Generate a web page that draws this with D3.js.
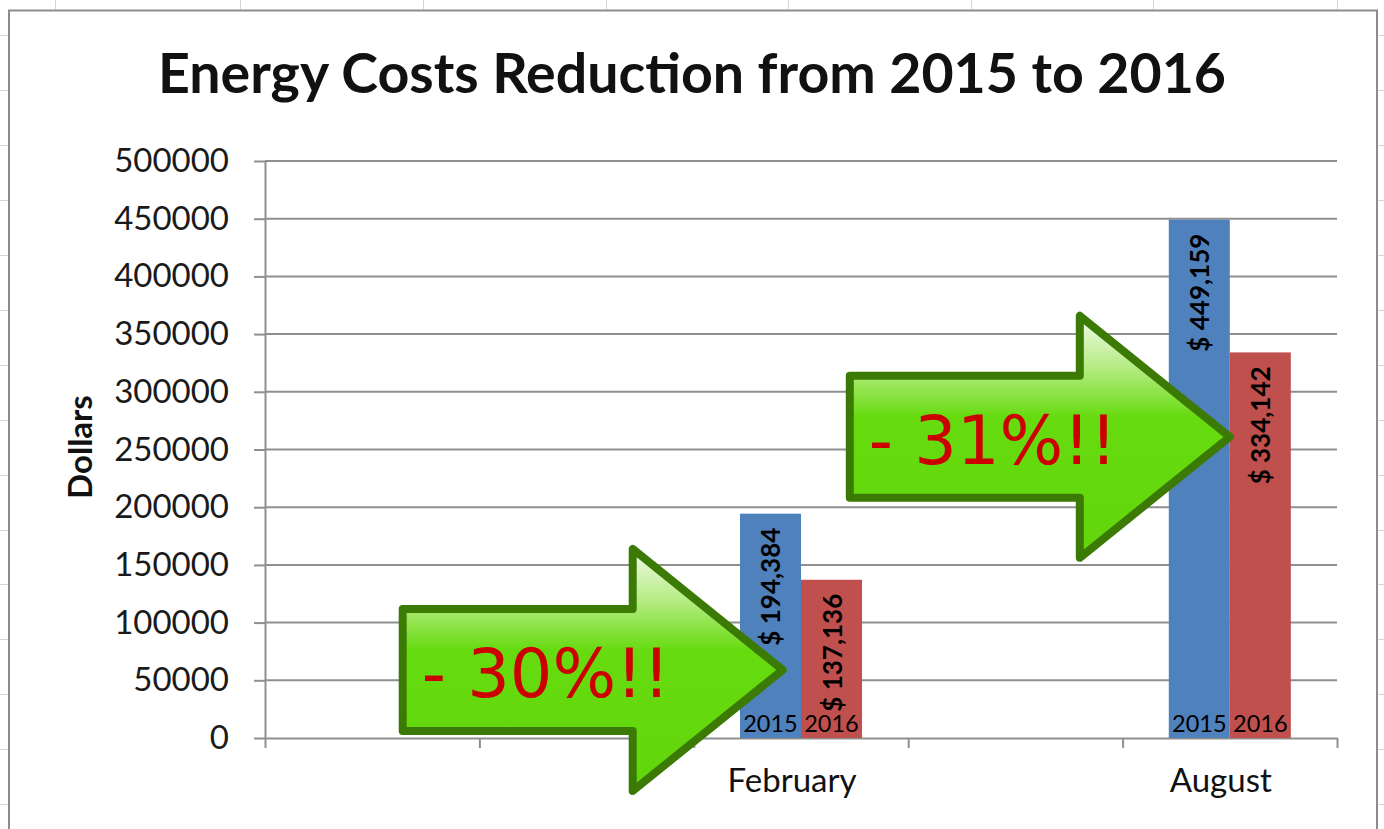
<!DOCTYPE html>
<html>
<head>
<meta charset="utf-8">
<script src="https://cdn.jsdelivr.net/npm/d3@7"></script>
<style>
  body { margin: 0; background: #fff; }
  svg { display: block; }
</style>
</head>
<body>
<svg></svg>
<script>
// chart data
const months = ["", "", "February", "", "August"];
const years = ["2015", "2016"];
const cost2015 = [null, null, 194384, null, 449159];
const cost2016 = [null, null, 137136, null, 334142];
const yTicks = [0, 50000, 100000, 150000, 200000, 250000, 300000, 350000, 400000, 450000, 500000];
const callouts = ["- 30%!!", "- 31%!!"];

const size = {w: 1384, h: 829};
const plot = {l: 265, r: 1337, t: 161, b: 738};
const svg = d3.select('svg').attr('width', size.w).attr('height', size.h);

// ---- spreadsheet behind the chart ----
const sheet = svg.append('g').attr('stroke', '#d6d6d6').attr('stroke-width', 1);
[55, 240, 423, 606, 788, 971, 1153, 1337].forEach(x => {
    sheet.append('line').attr('x1', x + .5).attr('x2', x + .5).attr('y1', 0).attr('y2', 10);
});
[35, 90, 145, 200, 255, 310, 365, 420, 475, 530, 584, 639, 694, 749, 804].forEach(y => {
    sheet.append('line').attr('x1', 0).attr('x2', 9).attr('y1', y + .5).attr('y2', y + .5);
    sheet.append('line').attr('x1', 1378).attr('x2', size.w).attr('y1', y + .5).attr('y2', y + .5);
});

// chart area
svg.append('rect')
    .attr('x', 9).attr('y', 10.5)
    .attr('width', 1368).attr('height', 840)
    .attr('fill', '#fff')
    .attr('stroke', '#8c8c8c')
    .attr('stroke-width', 2);

// ---- scales ----
const x = d3.scaleBand().domain(d3.range(months.length)).range([plot.l, plot.r]);
const xSub = d3.scaleBand().domain(years).range([0, x.bandwidth()]).paddingOuter(0.757);
const xEdge = d3.scaleLinear().domain([0, months.length]).range([plot.l, plot.r]);
const y = d3.scaleLinear().domain([0, 500000]).range([plot.b, plot.t]);
const color = d3.scaleOrdinal().domain(years).range(['#4F81BD', '#C0504D']);

// title
svg.append('text')
    .attr('x', 692).attr('y', 93)
    .attr('text-anchor', 'middle')
    .style('font', 'bold 55.5px Lato')
    .attr('fill', '#111')
    .text('Energy Costs Reduction from 2015 to 2016');

// gridlines
svg.append('g').selectAll('line')
    .data(yTicks.filter(d => d > 0))
    .join('line')
    .attr('x1', plot.l).attr('x2', plot.r)
    .attr('y1', d => y(d)).attr('y2', d => y(d))
    .attr('stroke', '#8f8f8f').attr('stroke-width', 2);

// y axis
const yAxisG = svg.append('g')
    .attr('transform', `translate(${plot.l},0)`)
    .call(d3.axisLeft(y).tickValues(yTicks).tickFormat(d3.format('d'))
        .tickSize(11).tickSizeOuter(0).tickPadding(25));
yAxisG.selectAll('path, line').attr('stroke', '#8f8f8f').attr('stroke-width', 2);
yAxisG.selectAll('text').style('font', '33px Lato').attr('fill', '#1a1a1a');

// x axis: ticks at category edges
const xAxisG = svg.append('g')
    .attr('transform', `translate(0,${plot.b})`)
    .call(d3.axisBottom(xEdge).ticks(months.length).tickFormat('').tickSize(10).tickSizeOuter(0));
xAxisG.selectAll('path, line').attr('stroke', '#8f8f8f').attr('stroke-width', 2);

svg.append('g').selectAll('text')
    .data(months)
    .join('text')
    .attr('x', (d, i) => x(i) + x.bandwidth() / 2 - 9)
    .attr('y', 792)
    .attr('text-anchor', 'middle')
    .style('font', '33px Lato')
    .attr('fill', '#111')
    .text(d => d);

// y title
svg.append('text')
    .attr('transform', 'translate(92,447) rotate(-90)')
    .attr('text-anchor', 'middle')
    .style('font', 'bold 33px Lato')
    .attr('fill', '#111')
    .text('Dollars');

// ---- bars ----
const bars = [];
months.forEach((m, i) => {
    [cost2015[i], cost2016[i]].forEach((v, j) => {
        if (v != null) bars.push({i: i, year: years[j], value: v});
    });
});

const barG = svg.append('g');
barG.selectAll('rect')
    .data(bars)
    .join('rect')
    .attr('x', d => x(d.i) + xSub(d.year))
    .attr('width', xSub.bandwidth())
    .attr('y', d => y(d.value))
    .attr('height', d => y(0) - y(d.value))
    .attr('fill', d => color(d.year));

// value labels, rotated inside the top of each bar
barG.selectAll('text.value')
    .data(bars)
    .join('text')
    .classed('value', true)
    .attr('transform', d => `translate(${x(d.i) + xSub(d.year) + xSub.bandwidth() / 2},${y(d.value) + 14}) rotate(-90)`)
    .attr('text-anchor', 'end')
    .attr('dominant-baseline', 'central')
    .style('font', 'bold 26px Lato')
    .attr('fill', '#000')
    .text(d => '$ ' + d3.format(',')(d.value));

// year labels at the foot of each bar
barG.selectAll('text.year')
    .data(bars)
    .join('text')
    .classed('year', true)
    .attr('x', d => x(d.i) + xSub(d.year) + xSub.bandwidth() / 2)
    .attr('y', plot.b - 6)
    .attr('text-anchor', 'middle')
    .style('font', '23.5px Lato')
    .attr('fill', '#000')
    .text(d => d.year);

// ---- green arrow callouts ----
const defs = svg.append('defs');
const grad = defs.append('linearGradient')
    .attr('id', 'arrowFill')
    .attr('x1', 0).attr('y1', 0).attr('x2', 0).attr('y2', 1);
grad.append('stop').attr('offset', '0%').attr('stop-color', '#f2fbea');
grad.append('stop').attr('offset', '22%').attr('stop-color', '#b3eb7f');
grad.append('stop').attr('offset', '42%').attr('stop-color', '#66db0f');
grad.append('stop').attr('offset', '100%').attr('stop-color', '#62d60b');

// arrow shape relative to its tip
const arrowLen = 380, headLen = 150, headHalf = 121, bodyHalf = 61;
function arrowPath() {
    return d3.line()([
        [0, 0], [-headLen, -headHalf], [-headLen, -bodyHalf], [-arrowLen, -bodyHalf],
        [-arrowLen, bodyHalf], [-headLen, bodyHalf], [-headLen, headHalf]
    ]) + 'Z';
}

// tips: inside the February 2015 bar, and between the August bars
const tips = [
    [x(2) + xSub('2015') + xSub.bandwidth() * 0.7, y(59000)],
    [x(4) + x.bandwidth() / 2, y(261000)]
];

const arrowG = svg.append('g').selectAll('g')
    .data(callouts)
    .join('g')
    .attr('transform', (d, i) => `translate(${tips[i][0]},${tips[i][1]})`);

arrowG.append('path')
    .attr('d', arrowPath())
    .attr('fill', 'url(#arrowFill)')
    .attr('stroke', '#3c7a06')
    .attr('stroke-width', 8)
    .attr('stroke-linejoin', 'round');

arrowG.append('text')
    .attr('x', -arrowLen + 19)
    .attr('y', 27)
    .style('font', '67px "DejaVu Sans"')
    .attr('fill', '#cc0000')
    .text(d => d);
</script>
</body>
</html>
